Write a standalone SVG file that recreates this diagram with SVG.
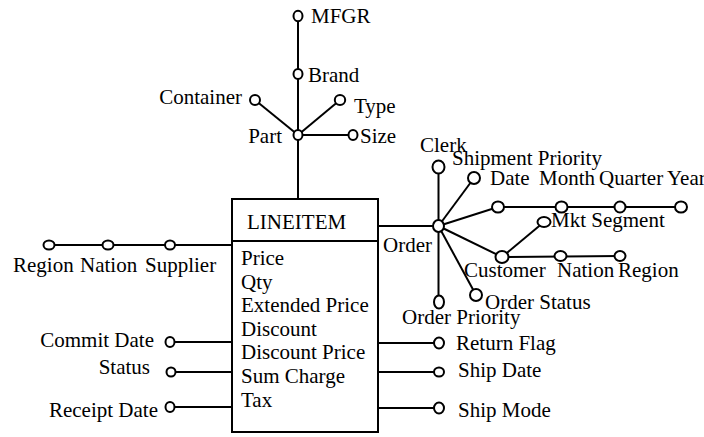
<svg xmlns="http://www.w3.org/2000/svg" width="704" height="437" viewBox="0 0 704 437">
<style>
.l{stroke:#000;stroke-width:2;fill:none}
.c{stroke:#000;stroke-width:2;fill:#fff}
.e{text-anchor:end}
</style>
<rect width="704" height="437" fill="#fff"/>
<g id="connectors">
<line class="l" x1="298" y1="16" x2="298" y2="199"/>
<line class="l" x1="298" y1="135" x2="255" y2="100"/>
<line class="l" x1="298" y1="135" x2="340" y2="100"/>
<line class="l" x1="298" y1="135" x2="353" y2="135"/>
<line class="l" x1="49" y1="245" x2="232" y2="245"/>
<line class="l" x1="170" y1="342" x2="232" y2="342"/>
<line class="l" x1="171" y1="372" x2="232" y2="372"/>
<line class="l" x1="170" y1="407" x2="232" y2="407"/>
<line class="l" x1="378" y1="226" x2="438.5" y2="226"/>
<line class="l" x1="438.5" y1="167" x2="438.5" y2="302"/>
<line class="l" x1="438.5" y1="226" x2="474" y2="178"/>
<line class="l" x1="438.5" y1="226" x2="498" y2="207"/>
<line class="l" x1="438.5" y1="226" x2="502" y2="257"/>
<line class="l" x1="438.5" y1="226" x2="476" y2="295"/>
<line class="l" x1="498" y1="207" x2="681" y2="207"/>
<line class="l" x1="502" y1="257" x2="544" y2="222"/>
<line class="l" x1="502" y1="257" x2="620" y2="256"/>
<line class="l" x1="378" y1="343" x2="439" y2="343"/>
<line class="l" x1="378" y1="372" x2="439" y2="372"/>
<line class="l" x1="378" y1="408" x2="439" y2="408"/>
</g>
<g font-family="'Liberation Serif', 'Times New Roman', 'DejaVu Serif', serif" font-size="21" fill="#000">
<g id="lineitem">
<rect class="l" x="232" y="199" width="146" height="233" fill="#fff"/>
<line class="l" x1="232" y1="241" x2="378" y2="241"/>
<text x="247" y="229">LINEITEM</text>
<text x="241" y="265">Price</text>
<text x="241" y="289">Qty</text>
<text x="241" y="312">Extended Price</text>
<text x="241" y="336">Discount</text>
<text x="241" y="359">Discount Price</text>
<text x="241" y="383">Sum Charge</text>
<text x="241" y="407">Tax</text>
</g>
<g id="mfgr"><ellipse class="c" cx="298" cy="16" rx="4.5" ry="5.2"/><text x="311" y="23">MFGR</text></g>
<g id="brand"><ellipse class="c" cx="298" cy="74" rx="4.5" ry="5"/><text x="308" y="82">Brand</text></g>
<g id="container"><ellipse class="c" cx="255" cy="100" rx="5" ry="5"/><text class="e" x="242" y="104">Container</text></g>
<g id="type"><ellipse class="c" cx="340" cy="100" rx="5.2" ry="5"/><text x="354" y="113">Type</text></g>
<g id="part"><ellipse class="c" cx="298" cy="135" rx="4.5" ry="5"/><text class="e" x="282" y="143">Part</text></g>
<g id="size"><ellipse class="c" cx="353" cy="135" rx="4.5" ry="5"/><text x="360" y="143">Size</text></g>
<g id="region1"><ellipse class="c" cx="49" cy="245" rx="5.5" ry="4.5"/><text x="13" y="272">Region</text></g>
<g id="nation1"><ellipse class="c" cx="108" cy="245" rx="5.5" ry="4.5"/><text x="80" y="272">Nation</text></g>
<g id="supplier"><ellipse class="c" cx="170" cy="245" rx="5" ry="4.5"/><text x="145" y="272">Supplier</text></g>
<g id="commitdate"><ellipse class="c" cx="170" cy="342" rx="4.5" ry="5"/><text class="e" x="154" y="347">Commit Date</text></g>
<g id="status"><ellipse class="c" cx="171" cy="372" rx="4.5" ry="4.5"/><text class="e" x="150" y="374">Status</text></g>
<g id="receiptdate"><ellipse class="c" cx="170" cy="407" rx="4.5" ry="5"/><text class="e" x="158" y="417">Receipt Date</text></g>
<g id="order"><ellipse class="c" cx="438.5" cy="226" rx="5.5" ry="6"/><text x="383" y="252">Order</text></g>
<g id="clerk"><ellipse class="c" cx="438.5" cy="167" rx="6" ry="6.5"/><text x="420" y="152">Clerk</text></g>
<g id="shipmentpriority"><ellipse class="c" cx="474" cy="178" rx="6" ry="6"/><text x="452" y="165">Shipment Priority</text></g>
<g id="date"><ellipse class="c" cx="498" cy="207" rx="6" ry="5.5"/><text x="490" y="185">Date</text></g>
<g id="month"><ellipse class="c" cx="561.5" cy="207" rx="6" ry="5.5"/><text x="539" y="185">Month</text></g>
<g id="quarter"><ellipse class="c" cx="620" cy="207" rx="5.5" ry="5.5"/><text x="599" y="185">Quarter</text></g>
<g id="year"><ellipse class="c" cx="681" cy="207" rx="6" ry="5.5"/><text x="667" y="185">Year</text></g>
<g id="mktsegment"><ellipse class="c" cx="544" cy="222" rx="6.5" ry="5"/><text x="551" y="227">Mkt Segment</text></g>
<g id="customer"><ellipse class="c" cx="502" cy="257" rx="6.5" ry="6"/><text x="464" y="277">Customer</text></g>
<g id="nation2"><ellipse class="c" cx="560.5" cy="256" rx="6" ry="5"/><text x="557" y="277">Nation</text></g>
<g id="region2"><ellipse class="c" cx="620" cy="256" rx="5.5" ry="5"/><text x="618" y="277">Region</text></g>
<g id="orderstatus"><ellipse class="c" cx="476" cy="295" rx="6" ry="6"/><text x="485" y="309">Order Status</text></g>
<g id="orderpriority"><ellipse class="c" cx="439" cy="302" rx="5" ry="6.5"/><text x="402" y="324">Order Priority</text></g>
<g id="returnflag"><ellipse class="c" cx="439" cy="343" rx="5" ry="5.5"/><text x="456" y="350">Return Flag</text></g>
<g id="shipdate"><ellipse class="c" cx="439" cy="372" rx="5" ry="4.5"/><text x="458" y="377">Ship Date</text></g>
<g id="shipmode"><ellipse class="c" cx="439" cy="408" rx="5" ry="5.5"/><text x="458" y="417">Ship Mode</text></g>
</g>
</svg>
